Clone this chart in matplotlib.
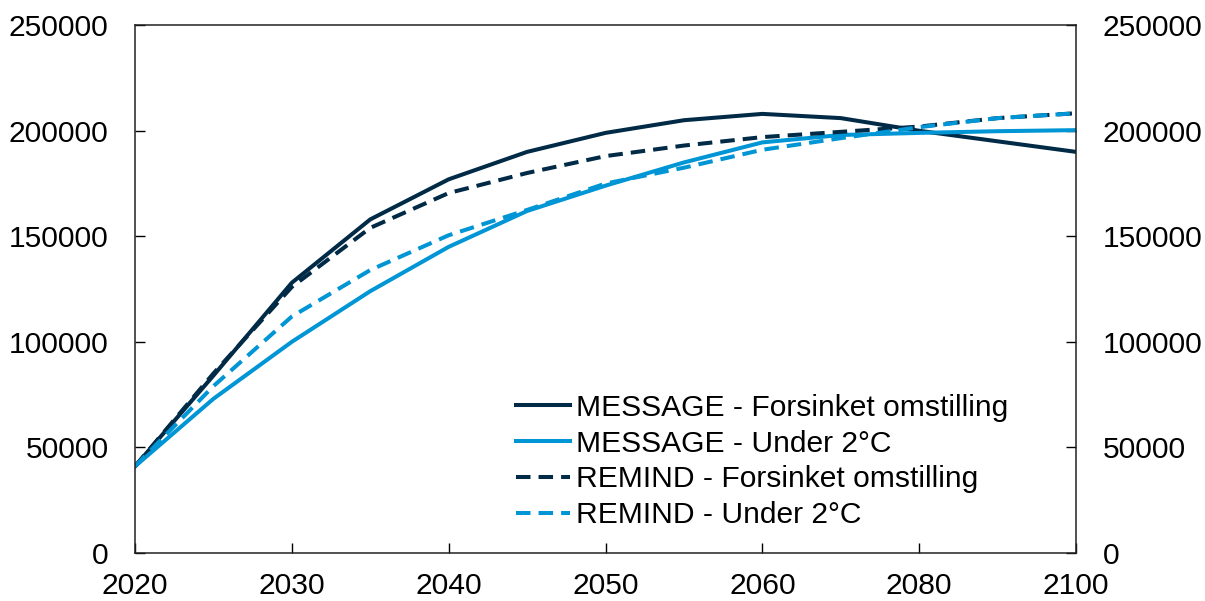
import matplotlib
matplotlib.use('Agg')
import matplotlib.pyplot as plt

plt.rcParams['font.family'] = ['Liberation Sans', 'DejaVu Sans']

# data
years = [2020, 2025, 2030, 2035, 2040, 2045, 2050, 2055, 2060, 2070, 2080, 2090, 2100]
message_forsinket = [41000, 84000, 128000, 158000, 177000, 190000, 199000, 205000, 208000, 206000, 200000, 195000, 190000]
message_under2 = [41000, 73000, 100000, 124000, 145000, 162000, 174000, 185000, 194500, 198000, 199000, 199800, 200300]
remind_forsinket = [41000, 85000, 126000, 154000, 170500, 180000, 188000, 193000, 197000, 199500, 202000, 206000, 208300]
remind_under2 = [41000, 79000, 112000, 134000, 150500, 162500, 175000, 182500, 191000, 196500, 201700, 206000, 208300]
tick_years = [2020, 2030, 2040, 2050, 2060, 2080, 2100]

dark = '#002a46'
light = '#0095d5'

fig = plt.figure(figsize=(12.05, 6.01), dpi=100)
ax = fig.add_axes([0.112, 0.080, 0.781, 0.878])

x = list(range(len(years)))
ax.plot(x, message_forsinket, color=dark, lw=2.9, label='MESSAGE - Forsinket omstilling')
ax.plot(x, message_under2, color=light, lw=2.9, label='MESSAGE - Under 2°C')
ax.plot(x, remind_forsinket, color=dark, lw=2.9, ls=(0, (3.6, 2.0)), label='REMIND - Forsinket omstilling')
ax.plot(x, remind_under2, color=light, lw=2.9, ls=(0, (3.6, 2.0)), label='REMIND - Under 2°C')

ax.set_xlim(0, len(years) - 1)
ax.set_ylim(0, 250000)
ax.set_xticks([years.index(y) for y in tick_years])
ax.set_xticklabels([str(y) for y in tick_years])
ax.set_yticks(range(0, 250001, 50000))

ax.tick_params(axis='y', direction='in', length=7, width=1, labelsize=21.6, pad=19,
               right=True, labelright=True)
ax.tick_params(axis='x', direction='in', length=7, width=1, labelsize=21.6, pad=14)
for s in ax.spines.values():
    s.set_linewidth(1.1)
    s.set_color('#222222')

ax.legend(loc='lower right', bbox_to_anchor=(0.95, 0.005), frameon=False, fontsize=21.6,
          handlelength=1.8, handletextpad=0.2, labelspacing=0.26, borderaxespad=0.3)

fig.savefig('out.png', dpi=100)
